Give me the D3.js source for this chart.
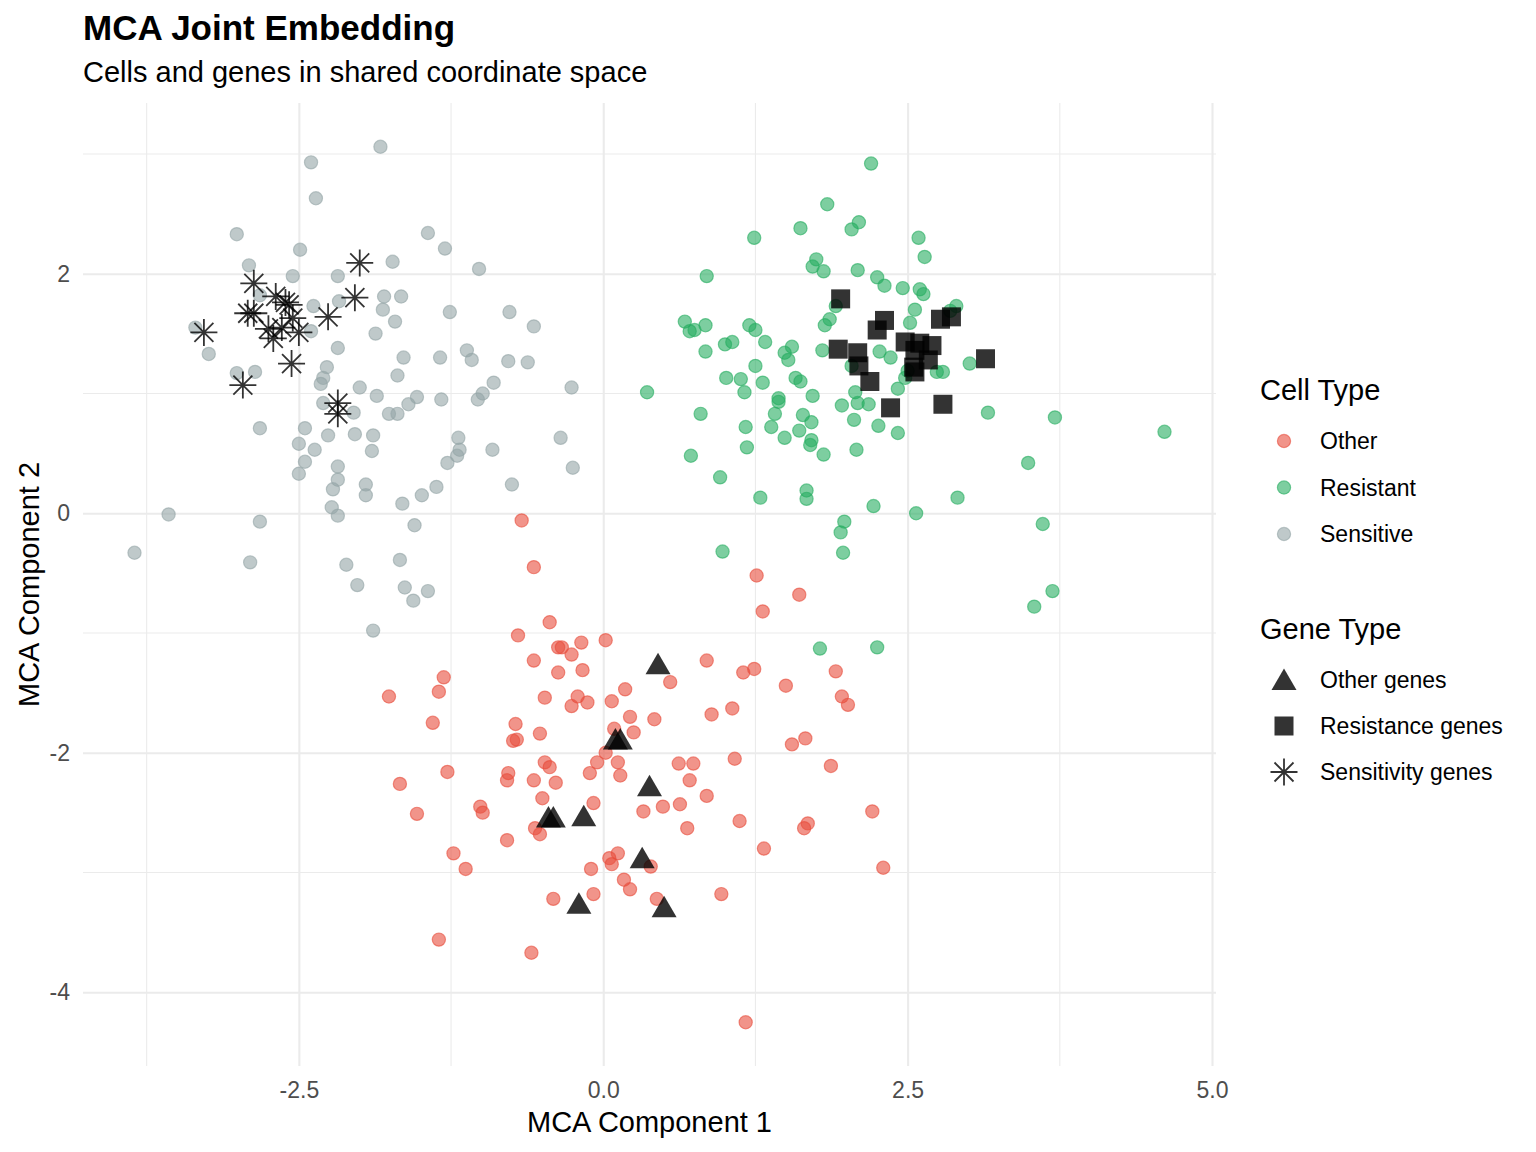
<!DOCTYPE html>
<html>
<head>
<meta charset="utf-8">
<script src="https://cdn.jsdelivr.net/npm/d3@7"></script>
<style>
  body { margin: 0; background: #fff; }
  svg text { font-family: "Liberation Sans", Arial, Helvetica, sans-serif; }
</style>
</head>
<body>
<div id="chart"></div>
<script>
// ---- data ----
const sensitiveCells = [
  [-2.40,2.93],[-1.83,3.06],[-2.36,2.63],[-3.01,2.33],[-1.44,2.34],[-1.30,2.21],[-2.49,2.20],[-2.91,2.07],
  [-1.73,2.10],[-2.18,1.98],[-2.55,1.98],[-1.02,2.04],[-1.80,1.81],[-1.66,1.81],[-1.81,1.70],[-1.71,1.60],
  [-1.87,1.50],[-1.26,1.68],[-0.77,1.68],[-0.57,1.56],[-1.12,1.36],[-1.08,1.28],[-1.34,1.30],[-1.64,1.30],
  [-0.78,1.27],[-0.62,1.26],[-1.69,1.15],[-0.90,1.09],[-0.26,1.05],[-1.86,0.98],[-1.76,0.83],[-1.69,0.83],
  [-1.60,0.91],[-1.53,0.97],[-1.33,0.95],[-1.03,0.95],[-0.99,1.00],[-1.89,0.65],[-1.90,0.52],[-1.19,0.63],
  [-1.18,0.53],[-1.20,0.48],[-1.28,0.42],[-0.91,0.53],[-0.35,0.63],[-0.25,0.38],[-0.75,0.24],[-1.37,0.22],
  [-1.49,0.15],[-1.65,0.08],[-1.55,-0.10],[-1.67,-0.39],[-1.63,-0.62],[-1.44,-0.65],[-1.56,-0.73],[-1.89,-0.98],
  [-2.82,1.82],[-2.38,1.73],[-2.17,1.77],[-2.40,1.52],[-3.35,1.55],[-3.24,1.33],[-2.18,1.38],[-2.27,1.22],
  [-2.30,1.13],[-2.32,1.08],[-3.01,1.17],[-2.86,1.18],[-2.00,1.05],[-2.30,0.92],[-2.05,0.84],[-2.82,0.71],
  [-2.45,0.71],[-2.50,0.58],[-2.37,0.53],[-2.26,0.65],[-2.04,0.66],[-2.18,0.39],[-2.45,0.43],[-2.50,0.33],
  [-2.18,0.28],[-2.22,0.20],[-1.95,0.24],[-1.95,0.15],[-2.23,0.05],[-2.18,-0.02],[-3.57,-0.01],[-2.82,-0.07],
  [-3.85,-0.33],[-2.90,-0.41],[-2.11,-0.43],[-2.02,-0.60]
];

const resistantCells = [
  [2.20,2.92],[1.84,2.58],[1.62,2.38],[2.04,2.37],[2.10,2.43],[1.24,2.30],[2.59,2.30],[2.64,2.14],
  [1.75,2.12],[1.72,2.06],[1.81,2.02],[2.09,2.03],[0.85,1.98],[2.25,1.97],[2.31,1.90],[2.46,1.88],
  [2.60,1.87],[2.63,1.83],[1.91,1.73],[1.86,1.62],[1.82,1.57],[2.56,1.70],[2.52,1.59],[2.90,1.73],
  [2.85,1.69],[0.67,1.60],[0.71,1.52],[0.75,1.53],[0.84,1.57],[1.20,1.57],[1.25,1.53],[1.00,1.41],
  [1.06,1.43],[1.33,1.43],[0.84,1.35],[1.55,1.39],[1.49,1.34],[1.52,1.28],[1.80,1.36],[2.27,1.35],
  [2.36,1.30],[1.25,1.23],[1.01,1.13],[1.13,1.12],[1.31,1.09],[1.58,1.13],[1.62,1.10],[1.16,1.01],
  [0.36,1.01],[1.72,0.98],[2.07,1.01],[2.42,1.04],[1.44,0.96],[2.50,1.19],[2.48,1.13],[2.04,1.23],
  [1.44,0.93],[1.96,0.90],[2.09,0.92],[2.18,0.91],[0.80,0.83],[1.41,0.83],[1.64,0.82],[1.71,0.76],
  [1.17,0.72],[1.38,0.72],[1.61,0.69],[1.49,0.63],[1.71,0.61],[1.70,0.57],[1.81,0.49],[2.06,0.78],
  [2.26,0.73],[2.42,0.67],[2.08,0.53],[1.18,0.55],[0.72,0.48],[0.96,0.30],[1.29,0.13],[1.67,0.19],
  [1.67,0.12],[2.22,0.06],[2.57,0.00],[1.98,-0.07],[1.95,-0.16],[1.97,-0.33],[0.98,-0.32],[3.16,0.84],
  [3.71,0.80],[4.61,0.68],[3.49,0.42],[2.91,0.13],[3.61,-0.09],[3.69,-0.65],[3.54,-0.78],[3.01,1.25],
  [2.74,1.18],[2.79,1.18],[1.78,-1.13],[2.25,-1.12]
];

const otherCells = [
  [-0.67,-0.06],[-0.57,-0.45],[-0.44,-0.91],[-0.70,-1.02],[-0.37,-1.12],[-0.34,-1.12],[-0.18,-1.08],[-0.26,-1.18],
  [0.02,-1.06],[-0.57,-1.23],[-0.37,-1.33],[-0.17,-1.31],[-1.31,-1.37],[-1.35,-1.49],[-1.76,-1.53],[-0.48,-1.54],
  [-0.21,-1.53],[-0.26,-1.61],[-0.13,-1.58],[0.07,-1.57],[0.18,-1.47],[0.22,-1.70],[0.25,-1.83],[-1.40,-1.75],
  [-0.72,-1.76],[-0.52,-1.84],[-0.74,-1.90],[-0.71,-1.89],[0.09,-1.80],[1.26,-0.52],[1.61,-0.68],[1.31,-0.82],
  [0.85,-1.23],[0.55,-1.41],[1.15,-1.33],[1.24,-1.30],[1.50,-1.44],[1.91,-1.32],[1.96,-1.53],[2.01,-1.60],
  [0.42,-1.72],[0.89,-1.68],[1.06,-1.63],[1.55,-1.93],[1.66,-1.88],[-1.67,-2.26],[-1.28,-2.16],[-1.53,-2.51],
  [-0.78,-2.17],[-0.79,-2.23],[-0.57,-2.23],[-0.48,-2.08],[-0.44,-2.12],[-0.39,-2.25],[-0.50,-2.38],[-1.01,-2.45],
  [-0.99,-2.50],[-0.56,-2.63],[-0.52,-2.68],[-0.79,-2.73],[-0.05,-2.08],[0.02,-2.00],[0.12,-2.08],[0.14,-2.19],
  [-0.11,-2.17],[-0.08,-2.42],[-1.23,-2.84],[-1.13,-2.97],[0.12,-2.84],[0.05,-2.88],[0.07,-2.93],[-0.10,-2.97],
  [-0.41,-3.22],[-0.08,-3.18],[0.17,-3.06],[0.22,-3.14],[-1.35,-3.56],[-0.59,-3.67],[0.62,-2.09],[0.74,-2.09],
  [1.08,-2.05],[1.87,-2.11],[0.71,-2.23],[0.85,-2.36],[0.33,-2.49],[0.49,-2.45],[0.63,-2.43],[0.69,-2.63],
  [1.12,-2.57],[1.68,-2.59],[1.65,-2.63],[2.21,-2.49],[1.32,-2.80],[2.30,-2.96],[0.39,-2.95],[0.44,-3.22],
  [0.97,-3.18],[1.17,-4.25]
];

const otherGenes = [
  [0.45,-1.26],[0.10,-1.89],[0.14,-1.89],[0.38,-2.28],[-0.45,-2.54],[-0.41,-2.54],
  [-0.16,-2.53],[0.32,-2.88],[-0.20,-3.26],[0.50,-3.29]
];

const resistanceGenes = [
  [1.95,1.79],[2.31,1.61],[2.25,1.53],[1.93,1.37],[2.09,1.34],[2.10,1.23],[2.19,1.10],[2.48,1.43],
  [2.56,1.36],[2.55,1.22],[2.77,1.62],[2.86,1.64],[2.60,1.42],[2.70,1.40],[2.67,1.28],[2.56,1.18],
  [3.14,1.29],[2.79,0.91],[2.36,0.88]
];

const sensitivityGenes = [
  [-2.00,2.09],[-2.04,1.80],[-2.26,1.64],[-2.87,1.92],[-2.69,1.81],[-2.61,1.76],[-2.55,1.63],[-2.50,1.51],
  [-2.92,1.67],[-2.87,1.67],[-2.75,1.54],[-2.71,1.46],[-2.64,1.55],[-3.28,1.51],[-2.56,1.25],[-2.96,1.07],
  [-2.18,0.92],[-2.18,0.83],[-2.58,1.74]
];

const cellTypes = ["Other", "Resistant", "Sensitive"];
const cellColors = ["#E74C3C", "#27AE60", "#95A5A6"];
const geneTypes = ["Other genes", "Resistance genes", "Sensitivity genes"];
const geneShapes = ["triangle", "square", "asterisk"];

const xTickValues = [-2.5, 0, 2.5, 5];
const xTickLabels = ["-2.5", "0.0", "2.5", "5.0"];
const xMinorValues = [-3.75, -1.25, 1.25, 3.75];
const yTickValues = [-4, -2, 0, 2];
const yTickLabels = ["-4", "-2", "0", "2"];
const yMinorValues = [-3, -1, 1, 3];

// ---- layout ----
const width = 1536, height = 1152;
const panel = { left: 83, right: 1216, top: 103, bottom: 1066 };
const font = "'Liberation Sans', Arial, Helvetica, sans-serif";

const cellGroups = [otherCells, resistantCells, sensitiveCells];
const geneGroups = [otherGenes, resistanceGenes, sensitivityGenes];
const allPts = cellGroups.flat().concat(geneGroups.flat());

// ggplot-like 5% expansion
const expand = (ext) => { const d = (ext[1] - ext[0]) * 0.05; return [ext[0] - d, ext[1] + d]; };
const x = d3.scaleLinear().domain(expand(d3.extent(allPts, d => d[0]))).range([panel.left, panel.right]);
const y = d3.scaleLinear().domain(expand(d3.extent(allPts, d => d[1]))).range([panel.bottom, panel.top]);

const svg = d3.select("#chart").append("svg")
  .attr("width", width).attr("height", height)
  .style("font-family", font);

// grid
const grid = svg.append("g");
grid.selectAll(".xminor").data(xMinorValues).join("line")
  .attr("x1", d => x(d)).attr("x2", d => x(d))
  .attr("y1", panel.top).attr("y2", panel.bottom)
  .attr("stroke", "#ebebeb").attr("stroke-width", 1.1);
grid.selectAll(".yminor").data(yMinorValues).join("line")
  .attr("y1", d => y(d)).attr("y2", d => y(d))
  .attr("x1", panel.left).attr("x2", panel.right)
  .attr("stroke", "#ebebeb").attr("stroke-width", 1.1);

const xAxis = svg.append("g")
  .attr("transform", `translate(0,${panel.bottom})`)
  .call(d3.axisBottom(x).tickValues(xTickValues)
    .tickFormat((d, i) => xTickLabels[i])
    .tickSize(-(panel.bottom - panel.top)).tickPadding(16));
const yAxis = svg.append("g")
  .attr("transform", `translate(${panel.left},0)`)
  .call(d3.axisLeft(y).tickValues(yTickValues)
    .tickFormat((d, i) => yTickLabels[i])
    .tickSize(-(panel.right - panel.left)).tickPadding(13));

[xAxis, yAxis].forEach(a => {
  a.select(".domain").remove();
  a.selectAll(".tick line").attr("stroke", "#ebebeb").attr("stroke-width", 2.1);
  a.selectAll(".tick text")
    .attr("fill", "#4d4d4d").style("font-size", "23px").style("font-family", font);
});

// cells
const cellLayer = svg.append("g");
cellGroups.forEach((pts, gi) => {
  cellLayer.selectAll(null).data(pts).join("circle")
    .attr("cx", d => x(d[0])).attr("cy", d => y(d[1]))
    .attr("r", 6.6)
    .attr("fill", cellColors[gi]).attr("fill-opacity", 0.6)
    .attr("stroke", cellColors[gi]).attr("stroke-opacity", 0.6).attr("stroke-width", 1.2);
});

// gene marker shapes
function shapePath(shape) {
  if (shape === "triangle") {
    return "M0,-11.5L12.5,10L-12.5,10Z";
  }
  if (shape === "square") {
    return "M-9.5,-9.5H9.5V9.5H-9.5Z";
  }
  // asterisk: plus + x
  const a = 13.5, b = 9.5;
  return `M0,${-a}V${a}M${-a},0H${a}M${-b},${-b}L${b},${b}M${-b},${b}L${b},${-b}`;
}
function styleShape(sel, shape) {
  if (shape === "asterisk") {
    sel.attr("fill", "none").attr("stroke", "#000").attr("stroke-opacity", 0.8).attr("stroke-width", 1.8);
  } else {
    sel.attr("fill", "#000").attr("fill-opacity", 0.8).attr("stroke", "none");
  }
}

const geneLayer = svg.append("g");
geneGroups.forEach((pts, gi) => {
  const shape = geneShapes[gi];
  geneLayer.selectAll(null).data(pts).join("path")
    .attr("d", shapePath(shape))
    .attr("transform", d => `translate(${x(d[0])},${y(d[1])})`)
    .call(styleShape, shape);
});

// titles
svg.append("text").attr("x", 83).attr("y", 40)
  .style("font-size", "35px").style("font-weight", "bold").attr("fill", "#000")
  .text("MCA Joint Embedding");
svg.append("text").attr("x", 83).attr("y", 82)
  .style("font-size", "29px").attr("fill", "#000")
  .text("Cells and genes in shared coordinate space");

svg.append("text")
  .attr("x", (panel.left + panel.right) / 2).attr("y", 1132)
  .attr("text-anchor", "middle").style("font-size", "29px")
  .text("MCA Component 1");
svg.append("text")
  .attr("transform", `translate(39,${(panel.top + panel.bottom) / 2}) rotate(-90)`)
  .attr("text-anchor", "middle").style("font-size", "29px")
  .text("MCA Component 2");

// legends
const legX = 1260, keyX = 1284, labX = 1320;
svg.append("text").attr("x", legX).attr("y", 400).style("font-size", "29px").text("Cell Type");
const cellLeg = svg.append("g");
cellTypes.forEach((t, i) => {
  const cy = 441 + i * 46.5;
  cellLeg.append("circle").attr("cx", keyX).attr("cy", cy).attr("r", 6.6)
    .attr("fill", cellColors[i]).attr("fill-opacity", 0.6)
    .attr("stroke", cellColors[i]).attr("stroke-opacity", 0.6).attr("stroke-width", 1.2);
  cellLeg.append("text").attr("x", labX).attr("y", cy).attr("dy", "0.35em")
    .style("font-size", "23px").text(t);
});

svg.append("text").attr("x", legX).attr("y", 639).style("font-size", "29px").text("Gene Type");
const geneLeg = svg.append("g");
geneTypes.forEach((t, i) => {
  const cy = 680 + i * 46;
  geneLeg.append("path").attr("d", shapePath(geneShapes[i]))
    .attr("transform", `translate(${keyX},${cy})`)
    .call(styleShape, geneShapes[i]);
  geneLeg.append("text").attr("x", labX).attr("y", cy).attr("dy", "0.35em")
    .style("font-size", "23px").text(t);
});
</script>
</body>
</html>
